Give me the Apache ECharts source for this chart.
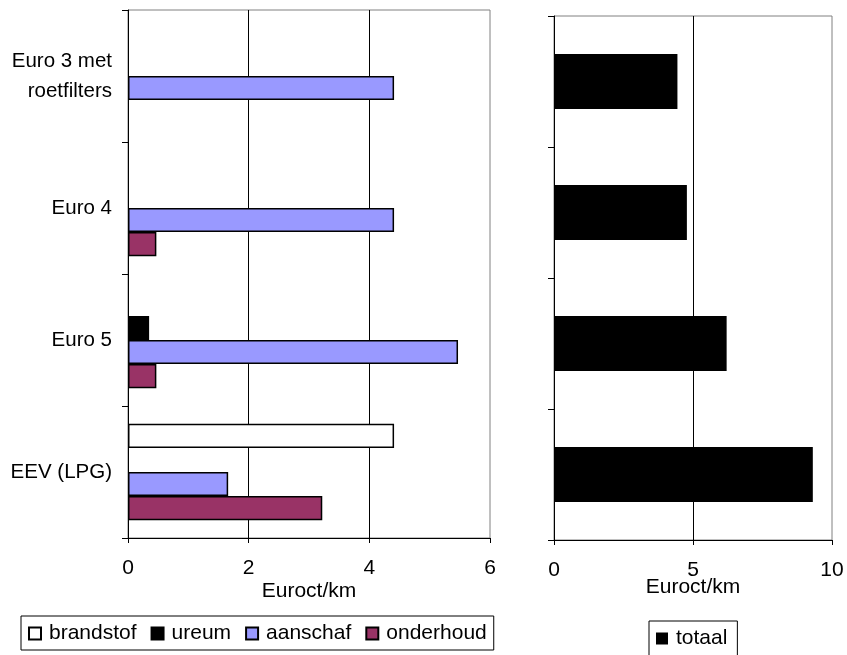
<!DOCTYPE html>
<html>
<head>
<meta charset="utf-8">
<script src="https://cdn.jsdelivr.net/npm/echarts@6/dist/echarts.min.js"></script>
<style>
html,body{margin:0;padding:0;background:#fff;}
#chart{width:847px;height:655px;}
</style>
</head>
<body>
<div id="chart"></div>
<script>
const categories = ['Euro 3 met\nroetfilters', 'Euro 4', 'Euro 5', 'EEV (LPG)'];
const brandstof = [null, null, null, 4.41];
const ureum = [null, null, 0.35, null];
const aanschaf = [4.41, 4.41, 5.47, 1.66];
const onderhoud = [null, 0.47, 0.47, 3.22];
const totaal = [4.44, 4.78, 6.21, 9.31];
const leftTicks = [0, 2, 4, 6];
const rightTicks = [0, 5, 10];

const FONT = 'Liberation Sans, Arial, sans-serif';
const chart = echarts.init(document.getElementById('chart'), null, {renderer: 'canvas'});

function barSeries(name, data, color) {
  return {
    name: name, type: 'bar', xAxisIndex: 0, yAxisIndex: 0, data: data,
    barGap: '0%', barCategoryGap: '27%',
    itemStyle: {color: color, borderColor: '#000', borderWidth: 1.5},
    emphasis: {disabled: true}
  };
}

const valAxisCommon = {
  type: 'value',
  axisLine: {show: true, lineStyle: {color: '#000', width: 1}},
  axisTick: {show: true, length: 5, lineStyle: {color: '#000'}},
  axisLabel: {color: '#000', fontSize: 21, fontFamily: FONT, margin: 20},
  splitLine: {show: true, showMinLine: false, showMaxLine: false, lineStyle: {color: '#000', width: 1}},
  nameLocation: 'middle',
  nameMoveOverlap: false,
  nameTextStyle: {color: '#000', fontSize: 21, fontFamily: FONT}
};

const catAxisCommon = {
  type: 'category',
  inverse: true,
  data: categories,
  axisLine: {show: true, lineStyle: {color: '#000', width: 1}},
  axisTick: {show: true, length: 6, lineStyle: {color: '#000'}},
  splitLine: {show: false}
};

const legendText = {color: '#000', fontSize: 21, fontFamily: FONT, padding: [0, 0, 0, 3]};

chart.setOption({
  animation: false,
  backgroundColor: '#fff',
  textStyle: {fontFamily: FONT},
  grid: [
    {left: 128, top: 10, width: 362, height: 528, show: true, borderColor: '#808080', borderWidth: 1, backgroundColor: 'transparent'},
    {left: 554, top: 16, width: 278, height: 524, show: true, borderColor: '#808080', borderWidth: 1, backgroundColor: 'transparent'}
  ],
  xAxis: [
    Object.assign({}, valAxisCommon, {gridIndex: 0, min: leftTicks[0], max: leftTicks[leftTicks.length - 1], interval: 2, name: 'Euroct/km', nameGap: 43}),
    Object.assign({}, valAxisCommon, {gridIndex: 1, min: rightTicks[0], max: rightTicks[rightTicks.length - 1], interval: 5, name: 'Euroct/km', nameGap: 37})
  ],
  yAxis: [
    Object.assign({}, catAxisCommon, {gridIndex: 0,
      axisLabel: {color: '#000', fontSize: 20.5, fontFamily: FONT, margin: 16, lineHeight: 30, align: 'right'}}),
    Object.assign({}, catAxisCommon, {gridIndex: 1, axisLabel: {show: false}})
  ],
  legend: [
    {
      data: ['brandstof', 'ureum', 'aanschaf', 'onderhoud'],
      left: 21, top: 616, orient: 'horizontal',
      icon: 'rect', itemWidth: 12, itemHeight: 12, itemGap: 14,
      padding: [7, 7, 6, 7],
      borderColor: '#000', borderWidth: 1,
      textStyle: legendText,
      selectedMode: false
    },
    {
      data: ['totaal'],
      left: 649, top: 621, orient: 'horizontal',
      icon: 'rect', itemWidth: 12, itemHeight: 12,
      padding: [7, 10, 7, 7],
      borderColor: '#000', borderWidth: 1,
      textStyle: legendText,
      selectedMode: false
    }
  ],
  series: [
    barSeries('brandstof', brandstof, '#FFFFFF'),
    barSeries('ureum', ureum, '#000000'),
    barSeries('aanschaf', aanschaf, '#9999FF'),
    barSeries('onderhoud', onderhoud, '#993366'),
    {
      name: 'totaal', type: 'bar', xAxisIndex: 1, yAxisIndex: 1, data: totaal,
      barCategoryGap: '58%',
      itemStyle: {color: '#000'},
      emphasis: {disabled: true}
    }
  ]
});
</script>
</body>
</html>
